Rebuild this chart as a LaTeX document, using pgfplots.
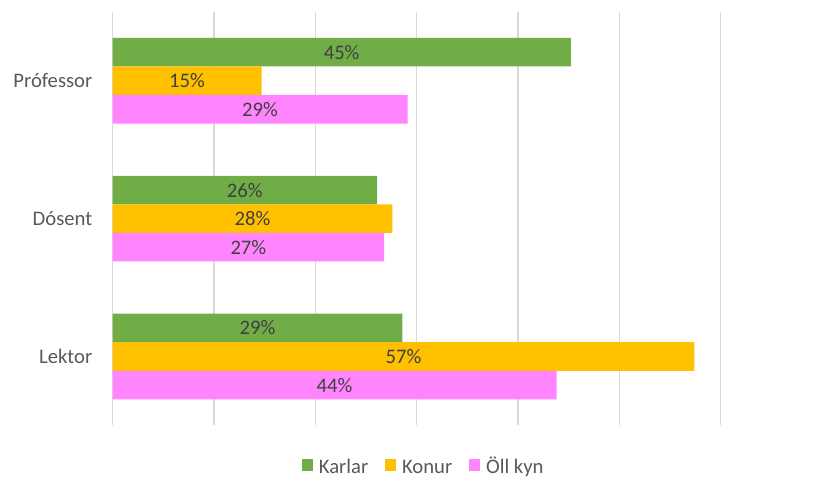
\documentclass[border=0pt]{standalone}
\usepackage{pgfplots}
\pgfplotsset{compat=1.18}
\usepackage{fontspec}
\setmainfont{Carlito}
\definecolor{cgreen}{HTML}{70AD47}
\definecolor{corange}{HTML}{FFC000}
\definecolor{cpink}{HTML}{FF85FF}
\definecolor{ctext}{HTML}{595959}
\definecolor{clabel}{HTML}{404040}
\definecolor{cgrid}{HTML}{D9D9D9}
\begin{document}
\begin{tikzpicture}
\fontsize{15.5}{18}\selectfont
\path[use as bounding box] (0,0) rectangle (611.25pt,360pt);
\begin{axis}[
  at={(84.4pt,40.9pt)}, anchor=south west,
  scale only axis, width=456.2pt, height=310.3pt,
  xbar, bar width=0.207,
  xmin=0, xmax=60, ymin=-0.5, ymax=2.5,
  xtick={0,10,...,60}, xticklabels={},
  ytick={0,1,2}, yticklabels={Lektor,Dósent,Prófessor},
  major tick length=0pt,
  axis line style={draw=none},
  xmajorgrids, grid style={cgrid, line width=1pt},
  yticklabel style={font=\fontsize{15.5}{18}\selectfont, text=ctext, inner sep=0pt, xshift=-15pt},
  /pgf/number format/assume math mode=true,
  visualization depends on={rawx \as \rawx},
  nodes near coords={\pgfmathprintnumber[fixed,precision=0]{\pgfplotspointmeta}\%},
  every node near coord/.append style={anchor=center, text=clabel, font=\fontsize{15.5}{18}\selectfont, shift={(axis direction cs:-\rawx/2,0)}},
  legend columns=3,
  legend style={at={(0.512,-0.104)}, anchor=center, draw=none, fill=none,
    font=\fontsize{15.5}{18}\selectfont, text=ctext,
    nodes={text height=11pt, text depth=3.5pt},
    /tikz/every odd column/.append style={column sep=2.5pt},
    /tikz/every even column/.append style={column sep=10.5pt}},
  legend image code/.code={\fill[#1] (0pt,-1.5pt) rectangle (8.4pt,6.9pt);},
]
\addplot[fill=cgreen, draw=none, bar shift=0.207] coordinates {(28.6,0) (26.1,1) (45.2,2)};
\addplot[fill=corange, draw=none, bar shift=0] coordinates {(57.4,0) (27.6,1) (14.7,2)};
\addplot[fill=cpink, draw=none, bar shift=-0.207] coordinates {(43.8,0) (26.8,1) (29.1,2)};
\legend{Karlar,Konur,Öll kyn}
\end{axis}
\end{tikzpicture}
\end{document}
